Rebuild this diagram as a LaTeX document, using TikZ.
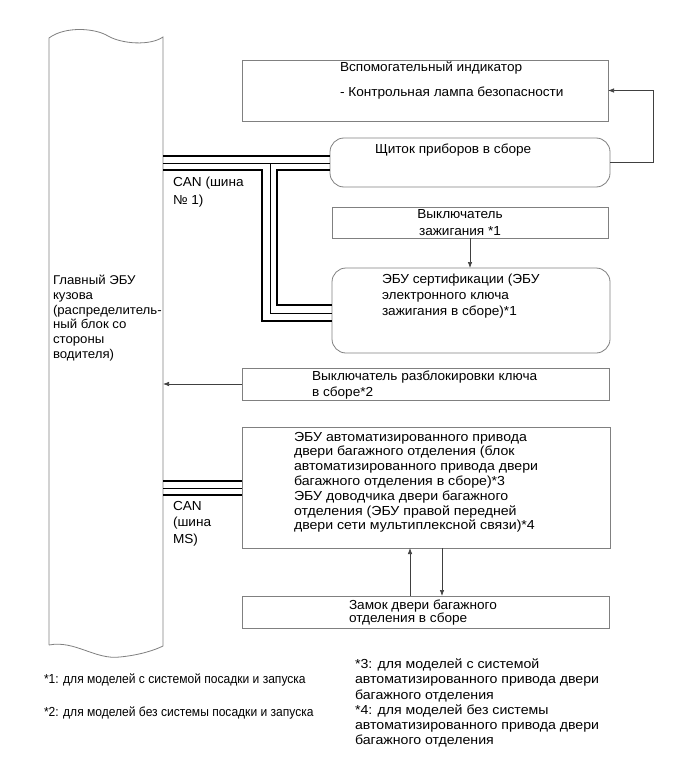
\documentclass[tikz,border=0pt]{standalone}
\usepackage{fontspec}
\setmainfont[FakeStretch=1.04]{Liberation Sans}
\newfontfamily\narrowfont[FakeStretch=0.92]{Liberation Sans}
\newfontfamily\widefont[FakeStretch=1.08]{Liberation Sans}
\usetikzlibrary{arrows.meta,calc}
\definecolor{boxgray}{HTML}{808080}
\definecolor{arrgray}{HTML}{404040}
\begin{document}
\begin{tikzpicture}[x=1pt,y=-1pt,
  box/.style={draw=boxgray, line width=0.8pt, inner sep=0pt, outer sep=0pt, anchor=north west},
  rbox/.style={box, rounded corners=14pt},
  lbl/.style={inner sep=0pt, outer sep=0pt, anchor=north west, align=left, font=\fontsize{13.1}{14.8}\selectfont},
  arr/.style={draw=arrgray, line width=0.7pt, -{Latex[length=6pt,width=4.5pt]}},
  canthick/.style={line width=2.6pt, black},
  canthin/.style={line width=0.9pt, black},
  busline/.style={draw=boxgray, line width=0.8pt},
]
\useasboundingbox (0,0) rectangle (689,757);
\fill[white] (0,0) rectangle (689,757);

% main body ECU (bus-like block)
\node[inner sep=0pt, outer sep=0pt, minimum width=114pt, minimum height=600pt, anchor=north west] (bus) at (49,42) {};
\draw[busline] (49,645) -- (49,38) .. controls (65,26) and (95,28) .. (108,36)
  .. controls (122,44) and (150,46) .. (163,37) -- (163,646)
  .. controls (155,650) and (140,655) .. (120,657)
  .. controls (95,660) and (75,640) .. (49,645);
\node[lbl, font=\fontsize{12.7}{14.8}\selectfont] (tbus) at (53,275)
  {Главный ЭБУ\\кузова\\(распределитель-\\ный блок со\\стороны\\водителя)};

% boxes
\node[box, minimum width=366pt, minimum height=61pt] (ind) at (242,60) {};
\node[rbox, minimum width=280pt, minimum height=49pt] (cluster) at (330,138) {};
\node[box, minimum width=276pt, minimum height=31pt] (ign) at (332,207) {};
\node[rbox, minimum width=278pt, minimum height=85pt] (cert) at (332,268) {};
\node[box, minimum width=367pt, minimum height=32pt] (unlock) at (242,368) {};
\node[box, minimum width=368pt, minimum height=121pt] (tail) at (242,427) {};
\node[box, minimum width=367pt, minimum height=32pt] (lock) at (242,596) {};

% texts in boxes
\node[lbl] (tind) at (340,62) {Вспомогательный индикатор\\[10.2pt]- Контрольная лампа безопасности};
\node[lbl] (tcluster) at (375,144) {Щиток приборов в сборе};
\node[lbl, anchor=north, align=center, font=\fontsize{13.1}{17}\selectfont] (tign) at (460,209) {Выключатель\\зажигания *1};
\node[lbl, font=\fontsize{13.1}{16}\selectfont] (tcert) at (382,274) {ЭБУ сертификации (ЭБУ\\электронного ключа\\зажигания в сборе)*1};
\node[lbl, font=\fontsize{13.1}{16}\selectfont] (tunlock) at (312,371) {Выключатель разблокировки ключа\\в сборе*2};
\node[lbl, font=\widefont\fontsize{13.1}{14.8}\selectfont] (ttail) at (294,432) {ЭБУ автоматизированного привода\\двери багажного отделения (блок\\автоматизированного привода двери\\багажного отделения в сборе)*3\\ЭБУ доводчика двери багажного\\отделения (ЭБУ правой передней\\двери сети мультиплексной связи)*4};
\node[lbl, font=\fontsize{13.1}{12.3}\selectfont] (tlock) at (349,600) {Замок двери багажного\\отделения в сборе};

% CAN labels
\node[lbl, font=\fontsize{13.1}{18}\selectfont] (tcan1) at (173,177) {CAN (шина\\№ 1)};
\node[lbl, font=\fontsize{13.1}{16.5}\selectfont] (tcanms) at (173,501) {CAN\\(шина\\MS)};

% CAN bus No.1
\draw[canthick] (bus.east |- 0,156) -- (cluster.west |- 0,156);
\draw[canthin] (bus.east |- 0,163) -- (cluster.west |- 0,163);
\draw[canthin] (270,163) -- (270,313) -- (cert.west |- 0,313);
\draw[canthick] (bus.east |- 0,170) -- (262,170) -- (262,321) -- (cert.west |- 0,321);
\draw[canthick] (cluster.west |- 0,170) -- (277,170) -- (277,305) -- (cert.west |- 0,305);

% CAN MS
\draw[canthick] (bus.east |- 0,481) -- (tail.west |- 0,481);
\draw[canthin] (bus.east |- 0,488) -- (tail.west |- 0,488);
\draw[canthick] (bus.east |- 0,495) -- (tail.west |- 0,495);

% arrows
\draw[arr] (cluster.east) -- (653,162.5) |- (ind.east);
\draw[arr] (ign.south) -- (cert.north -| ign.south);
\draw[arr] (unlock.west) -- (bus.east |- unlock.west);
\draw[arr] (lock.north -| 410,0) -- (tail.south -| 410,0);
\draw[arr] (tail.south -| 442,0) -- (lock.north -| 442,0);

% footnotes
\node[lbl, font=\narrowfont\fontsize{13.1}{14.8}\selectfont] (fn1) at (44,674) {*1: для моделей с системой посадки и запуска};
\node[lbl, font=\narrowfont\fontsize{13.1}{14.8}\selectfont] (fn2) at (44,707) {*2: для моделей без системы посадки и запуска};
\node[lbl, font=\widefont\fontsize{13.1}{15.2}\selectfont] (fn34) at (355,659) {*3: для моделей с системой\\автоматизированного привода двери\\багажного отделения\\*4: для моделей без системы\\автоматизированного привода двери\\багажного отделения};
\end{tikzpicture}
\end{document}
